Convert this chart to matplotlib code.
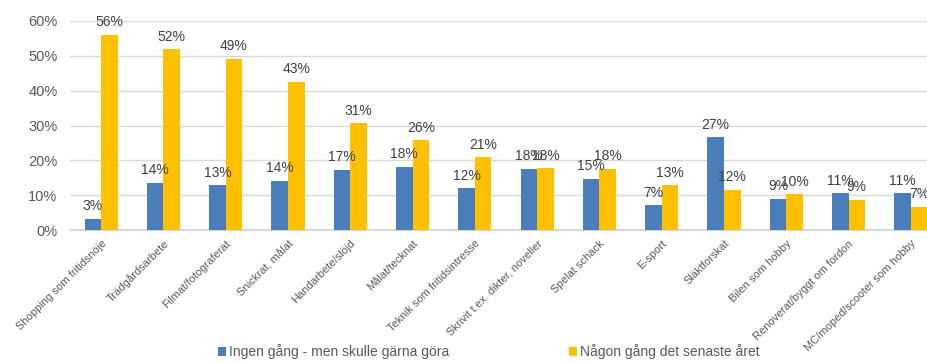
import numpy as np
import matplotlib.pyplot as plt

plt.rcParams['font.family'] = ['Liberation Sans', 'DejaVu Sans']

categories = ['Shopping som fritidsnöje', 'Trädgårdsarbete', 'Filmat/fotograferat',
              'Snickrat, målat', 'Handarbete/slöjd', 'Målat/tecknat',
              'Teknik som fritidsintresse', 'Skrivit t.ex. dikter, noveller',
              'Spelat schack', 'E-sport', 'Släktforskat', 'Bilen som hobby',
              'Renoverat/byggt om fordon', 'MC/moped/scooter som hobby']
ingen = [3.2, 13.6, 12.8, 14.1, 17.3, 18.1, 12.0, 17.6, 14.7, 7.1, 26.6, 9.0, 10.6, 10.6]
nagon = [56.0, 51.9, 49.1, 42.6, 30.6, 25.7, 20.9, 17.7, 17.5, 12.8, 11.6, 10.2, 8.7, 6.6]
series_names = ['Ingen gång - men skulle gärna göra', 'Någon gång det senaste året']

blue = '#4a7ebb'
yellow = '#ffc000'
grey = '#595959'

fig = plt.figure(figsize=(9.28, 3.63), dpi=100)
ax = fig.add_axes([70 / 928, 133 / 363, 872 / 928, (342 - 133) / 363])

x = np.arange(len(categories))
w = 0.265
b1 = ax.bar(x - w / 2, ingen, width=w, color=blue, label=series_names[0], zorder=3)
b2 = ax.bar(x + w / 2, nagon, width=w, color=yellow, label=series_names[1], zorder=3)

for bars, vals in [(b1, ingen), (b2, nagon)]:
    for bar, v in zip(bars, vals):
        ax.annotate(f'{v:.0f}%', (bar.get_x() + bar.get_width() / 2, v),
                    xytext=(0, 4), textcoords='offset points',
                    ha='center', va='bottom', fontsize=10, color='#404040', zorder=4)

ax.set_xlim(-0.5, len(categories) - 0.5)
ax.set_ylim(0, 60)
ax.set_yticks(np.arange(0, 61, 10))
ax.set_yticklabels([f'{v}%' for v in range(0, 61, 10)], fontsize=10.5, color=grey)
ax.set_xticks(x)
ax.set_xticklabels(categories, rotation=45, ha='right', rotation_mode='anchor',
                   fontsize=8, color=grey)
ax.tick_params(axis='both', length=0)
ax.tick_params(axis='x', pad=6)
ax.tick_params(axis='y', pad=9)
ax.grid(True, axis='y', color='#d9d9d9', linewidth=1, zorder=0)
for s in ['top', 'right', 'left']:
    ax.spines[s].set_visible(False)
ax.spines['bottom'].set_color('#d9d9d9')
ax.spines['bottom'].set_linewidth(1.5)

fig.legend(handles=[b1, b2], loc='center', bbox_to_anchor=(489 / 928, 11 / 363),
           ncol=2, frameon=False, fontsize=10, handlelength=0.55, handleheight=0.55,
           handletextpad=0.25, columnspacing=8.6, labelcolor=grey)

fig.savefig('out.png', dpi=100)
